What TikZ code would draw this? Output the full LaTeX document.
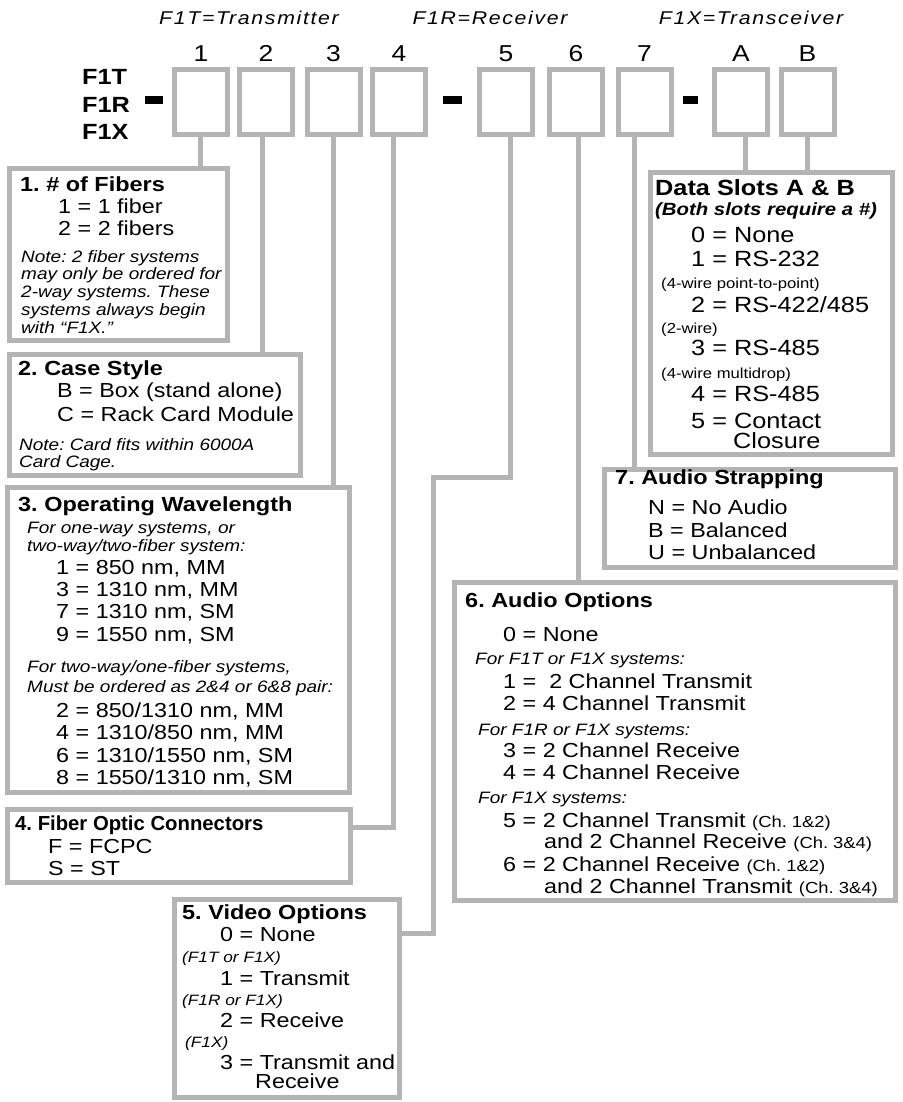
\documentclass[tikz,border=0pt]{standalone}
\usepackage{fontspec}
\setmainfont{Liberation Sans}[FakeStretch=1.15]
\newfontfamily\narrowfont{Liberation Sans}
\definecolor{boxgray}{RGB}{180,180,180}
\newcommand{\chsm}[1]{{\fontsize{16}{18}\selectfont #1}}
\frenchspacing

\begin{document}
\begin{tikzpicture}[x=1pt, y=-1pt,
    every node/.style={inner sep=0pt},
    slot/.style={draw=boxgray, line width=5pt, minimum width=53pt, minimum height=65pt},
    infobox/.style={draw=boxgray, line width=5pt},
    link/.style={draw=boxgray, line width=5pt},
    txt/.style={anchor=base west},
    hd/.style={txt, font=\bfseries\fontsize{20.4}{24}\selectfont},
    hdN/.style={txt, font=\narrowfont\bfseries\fontsize{20.3}{24}\selectfont},
    itm/.style={txt, font=\fontsize{20.3}{24}\selectfont},
    itmL/.style={txt, font=\fontsize{22}{26}\selectfont},
    nt/.style={txt, font=\itshape\fontsize{16.5}{19}\selectfont},
    sm/.style={txt, font=\fontsize{14.5}{17}\selectfont},
    smi/.style={txt, font=\itshape\fontsize{15}{17}\selectfont},
    bi/.style={txt, font=\bfseries\itshape\fontsize{17.7}{20}\selectfont},
    num/.style={anchor=base, font=\fontsize{23}{26}\selectfont},
    kind/.style={anchor=base, font=\itshape\fontsize{18.5}{22}\selectfont\addfontfeature{LetterSpace=9}},
    famlbl/.style={anchor=base west, font=\bfseries\fontsize{22}{26}\selectfont}]
    \useasboundingbox (0,0) rectangle (902,1102);

    % header
    \node[kind] (kT) at (249,25) {F1T=Transmitter};
    \node[kind] (kR) at (490,25) {F1R=Receiver};
    \node[kind] (kX) at (751,25) {F1X=Transceiver};
    \node[famlbl] (pT) at (82,85) {F1T};
    \node[famlbl] (pR) at (82,113) {F1R};
    \node[famlbl] (pX) at (82,140) {F1X};

    % order code slots
    \foreach \n/\x/\d in {1/201/-1, 2/266/-4, 3/333.5/0, 4/399/-6, 5/506/4,
                          6/576/2, 7/644.5/-10.5, A/741/4, B/807.5/0} {
        \node[slot] (b\n) at (\x,102) {};
        \node[num] (n\n) at (\x,62) {\n};
        \coordinate (c\n) at ([xshift=\d pt]b\n.south);
    }
    \fill (145,96) rectangle (163,104);
    \fill (443,96) rectangle (462,104);
    \fill (683,96) rectangle (698,104);

    % option boxes
    \node[infobox, minimum width=218pt, minimum height=172pt] (fib) at (118.5,254.5) {};
    \node[infobox, minimum width=291pt, minimum height=121pt] (cas) at (155,415) {};
    \node[infobox, minimum width=342pt, minimum height=305pt] (wav) at (178.5,640) {};
    \node[infobox, minimum width=343pt, minimum height=73pt] (con) at (179,846) {};
    \node[infobox, minimum width=225pt, minimum height=198pt] (vid) at (287,998.5) {};
    \node[infobox, minimum width=441pt, minimum height=318pt] (aud) at (675,741.5) {};
    \node[infobox, minimum width=291pt, minimum height=98pt] (str) at (750,518.5) {};
    \node[infobox, minimum width=242pt, minimum height=282pt] (dat) at (771.5,313.5) {};

    % connectors
    \coordinate (k5) at (433,477);
    \draw[link] (c1) -- (c1 |- fib.north);
    \draw[link] (c2) -- (c2 |- cas.north);
    \draw[link] (c3) -- (c3 |- wav.north);
    \draw[link] (c4) |- ([yshift=19pt]con.east);
    \draw[link] (c5) |- (k5) |- ([yshift=65.5pt]vid.east);
    \draw[link] (c6) -- (c6 |- aud.north);
    \draw[link] (c7) -- (c7 |- str.north);
    \draw[link] (cA) -- (cA |- dat.north);
    \draw[link] (cB) -- (cB |- dat.north);

    % 1. fibers
    \foreach \x/\y/\s/\t [count=\i] in {20/191/hd/{1. \# of Fibers},
        58/213/itm/{1 = 1 fiber}, 58/235/itm/{2 = 2 fibers},
        21/262/nt/{Note: 2 fiber systems}, 21/279.5/nt/{may only be ordered for},
        21/297/nt/{2-way systems. These}, 21/315/nt/{systems always begin},
        21/333/nt/{with “F1X.”}}
        \node[\s] (fib-\i) at (\x,\y) {\t};

    % 2. case style
    \foreach \x/\y/\s/\t [count=\i] in {18/375/hd/{2. Case Style},
        57/397/itm/{B = Box (stand alone)}, 57/421/itm/{C = Rack Card Module},
        19/450/nt/{Note: Card fits within 6000A}, 19/467/nt/{Card Cage.}}
        \node[\s] (cas-\i) at (\x,\y) {\t};

    % 3. wavelength
    \foreach \x/\y/\s/\t [count=\i] in {18/511/hd/{3. Operating Wavelength},
        27/533/nt/{For one-way systems, or}, 27/551/nt/{two-way/two-fiber system:},
        56/574/itm/{1 = 850 nm, MM}, 56/596/itm/{3 = 1310 nm, MM},
        56/618/itm/{7 = 1310 nm, SM}, 56/641/itm/{9 = 1550 nm, SM},
        27/672/nt/{For two-way/one-fiber systems,},
        27/692/nt/{Must be ordered as 2\&4 or 6\&8 pair:},
        56/717/itm/{2 = 850/1310 nm, MM}, 56/739/itm/{4 = 1310/850 nm, MM},
        56/762/itm/{6 = 1310/1550 nm, SM}, 56/784/itm/{8 = 1550/1310 nm, SM}}
        \node[\s] (wav-\i) at (\x,\y) {\t};

    % 4. connectors
    \foreach \x/\y/\s/\t [count=\i] in {15/830/hdN/{4. Fiber Optic Connectors},
        48/853/itm/{F = FCPC}, 48/875/itm/{S = ST}}
        \node[\s] (con-\i) at (\x,\y) {\t};

    % 5. video
    \foreach \x/\y/\s/\t [count=\i] in {182/919/hd/{5. Video Options},
        220/941/itm/{0 = None}, 182/962/smi/{(F1T or F1X)},
        220/985/itm/{1 = Transmit}, 182/1005/smi/{(F1R or F1X)},
        220/1027/itm/{2 = Receive}, 185/1047/smi/{(F1X)},
        220/1069/itm/{3 = Transmit and}, 255/1088/itm/{Receive}}
        \node[\s] (vid-\i) at (\x,\y) {\t};

    % 6. audio options
    \foreach \x/\y/\s/\t [count=\i] in {465/607/hd/{6. Audio Options},
        503/641/itm/{0 = None}, 475/664/nt/{For F1T or F1X systems:},
        503/688/itm/{1 = \ 2 Channel Transmit}, 503/710/itm/{2 = 4 Channel Transmit},
        478/735/nt/{For F1R or F1X systems:},
        503/757/itm/{3 = 2 Channel Receive}, 503/779/itm/{4 = 4 Channel Receive},
        478/803/nt/{For F1X systems:},
        503/827/itm/{5 = 2 Channel Transmit \chsm{(Ch. 1\&2)}},
        544/848/itm/{and 2 Channel Receive \chsm{(Ch. 3\&4)}},
        503/871/itm/{6 = 2 Channel Receive \chsm{(Ch. 1\&2)}},
        544/893/itm/{and 2 Channel Transmit \chsm{(Ch. 3\&4)}}}
        \node[\s] (aud-\i) at (\x,\y) {\t};

    % 7. audio strapping
    \foreach \x/\y/\s/\t [count=\i] in {615/484/hd/{7. Audio Strapping},
        648/514/itm/{N = No Audio}, 648/537/itm/{B = Balanced},
        648/559/itm/{U = Unbalanced}}
        \node[\s] (str-\i) at (\x,\y) {\t};

    % data slots
    \foreach \x/\y/\s/\t [count=\i] in {655/195/itmL/{\bfseries Data Slots A \& B},
        655/215/bi/{(Both slots require a \#)},
        691/242/itmL/{0 = None}, 691/266/itmL/{1 = RS-232},
        661/288/sm/{(4-wire point-to-point)}, 691/312/itmL/{2 = RS-422/485},
        661/333/sm/{(2-wire)}, 691/355/itmL/{3 = RS-485},
        661/378/sm/{(4-wire multidrop)}, 691/401/itmL/{4 = RS-485},
        691/428/itmL/{5 = Contact}, 733/448/itmL/{Closure}}
        \node[\s] (dat-\i) at (\x,\y) {\t};
\end{tikzpicture}
\end{document}
